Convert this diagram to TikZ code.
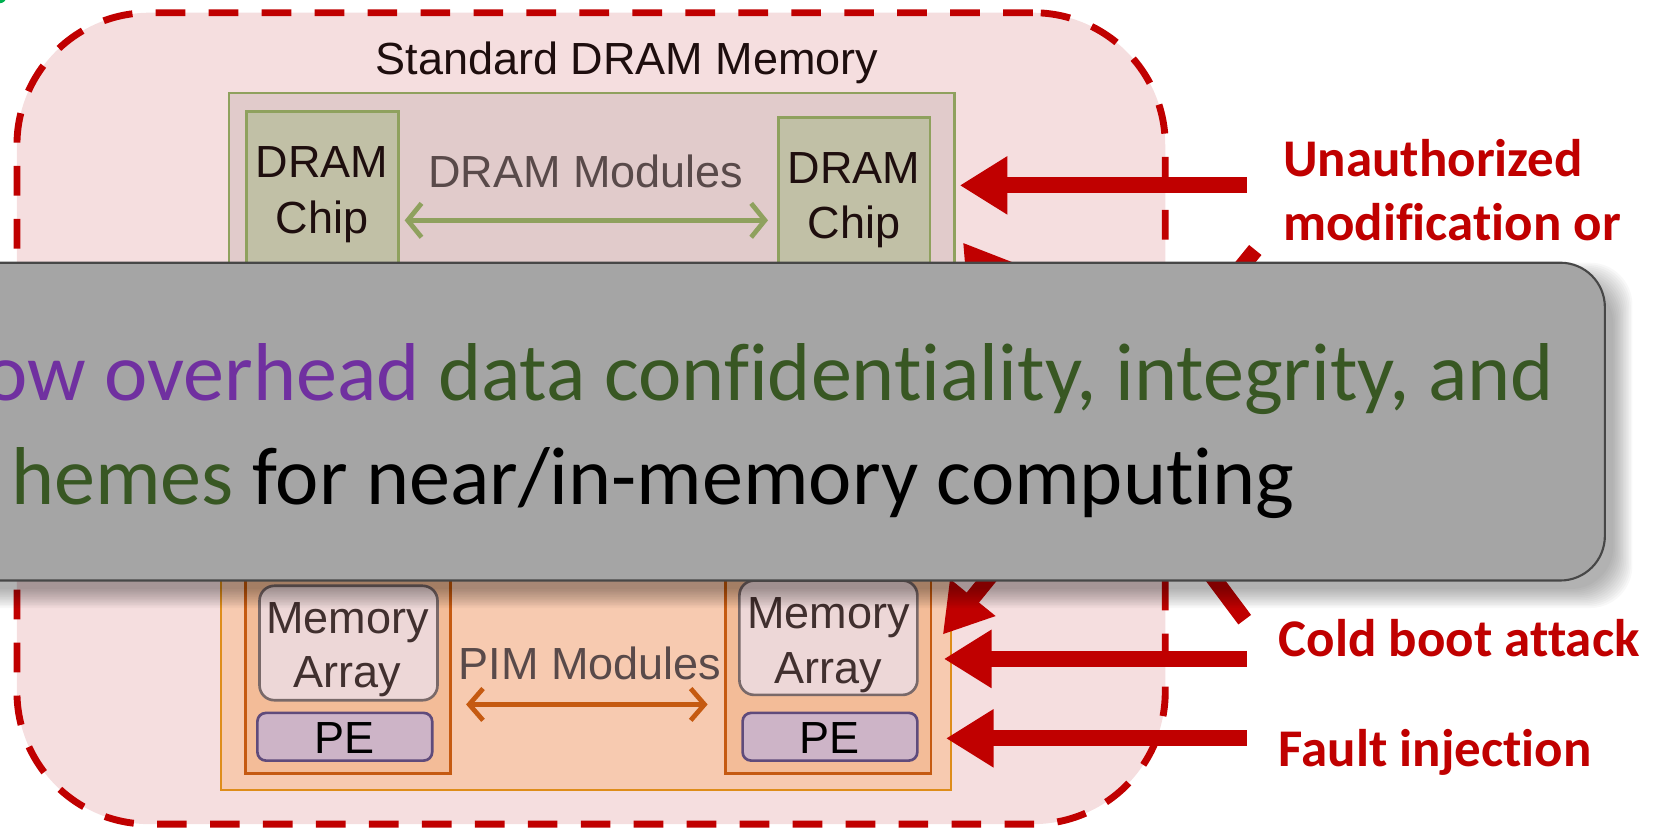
\documentclass[tikz,border=0pt]{standalone}
\usepackage{fontspec}
\newfontfamily\arialf{Liberation Sans}
\newfontfamily\calf[Ligatures=NoCommon]{Carlito}
\usetikzlibrary{arrows.meta}

\definecolor{outerfill}{HTML}{F5DEDF}
\definecolor{attackred}{HTML}{C00000}
\definecolor{dramfill}{HTML}{E1CBCB}
\definecolor{dramline}{HTML}{8FA15E}
\definecolor{chipfill}{HTML}{C1C0A6}
\definecolor{pimfill}{HTML}{F7CAB0}
\definecolor{pimline}{HTML}{DE8D1A}
\definecolor{pimin}{HTML}{F3BC98}
\definecolor{pimdark}{HTML}{C55A11}
\definecolor{arrfill}{HTML}{EDD7D7}
\definecolor{arrline}{HTML}{796969}
\definecolor{pefill}{HTML}{CDB4C7}
\definecolor{peline}{HTML}{5F4B7B}
\definecolor{labtext}{HTML}{594A4A}
\definecolor{darktext}{HTML}{1E0E0E}
\definecolor{memtext}{HTML}{41302F}
\definecolor{banner}{HTML}{A5A5A5}
\definecolor{bannerline}{HTML}{474747}
\definecolor{purp}{HTML}{7030A0}
\definecolor{grn}{HTML}{385723}
\definecolor{dotgreen}{HTML}{00B050}

\begin{document}
\begin{tikzpicture}[x=1pt,y=-1pt,
  box/.style={draw, inner sep=0pt, outer sep=0pt, anchor=north west},
  lbl/.style={inner sep=0pt, anchor=base, font=\arialf\fontsize{42.5}{50}\selectfont},
  attack/.style={inner sep=0pt, anchor=base west, text=attackred,
                 font=\calf\bfseries\fontsize{50}{60}\selectfont},
  redarrow/.style={draw=attackred, line width=15pt,
                   -{Triangle[length=45pt,width=52pt]}},
  garrow/.style={draw=dramline, line width=4.5pt,
                 {Straight Barb[length=13pt,width=32pt]}-{Straight Barb[length=13pt,width=32pt]}},
  oarrow/.style={draw=pimdark, line width=4.5pt,
                 {Straight Barb[length=13pt,width=30pt]}-{Straight Barb[length=13pt,width=30pt]}},
  msg/.style={inner sep=0pt, anchor=base east, font=\calf\fontsize{77.5}{90}\selectfont}
]
\useasboundingbox (0,0) rectangle (1568,786);
\clip (0,0) rectangle (1568,786);

% small green mark in the corner
\fill[dotgreen] (0,-3) circle (6pt);

% memory enclosure
\node[box, draw=attackred, fill=outerfill, line width=6.5pt,
      dash pattern=on 28pt off 22pt, rounded corners=125pt,
      minimum width=1084pt, minimum height=766pt] (mem) at (16,12) {};
\node[lbl, text=darktext] (title) at (592,70) {Standard DRAM Memory};

% DRAM modules
\node[box, draw=dramline, fill=dramfill, line width=2pt,
      minimum width=685pt, minimum height=250pt] (dmod) at (216,88) {};
\node[box, draw=dramline, fill=chipfill, line width=2.5pt,
      minimum width=143pt, minimum height=200pt] (chipL) at (233,105) {};
\node[box, draw=dramline, fill=chipfill, line width=2.5pt,
      minimum width=143pt, minimum height=200pt] (chipR) at (735,111) {};
\node[lbl, text=darktext] (chipLa) at (304,168) {DRAM};
\node[lbl, text=darktext] (chipLb) at (304,220) {Chip};
\node[lbl, text=darktext] (chipRa) at (806,173) {DRAM};
\node[lbl, text=darktext] (chipRb) at (806,225) {Chip};
\node[lbl, text=labtext] (dlabel) at (553,177) {DRAM Modules};
\coordinate (gy) at (0,208);
\draw[garrow, shorten <=6pt, shorten >=10pt] (chipL.east |- gy) -- (chipR.west |- gy);

% PIM modules
\node[box, draw=pimline, fill=pimfill, line width=2pt,
      minimum width=689pt, minimum height=346pt] (pmod) at (209,400) {};
\node[box, draw=pimdark, fill=pimin, line width=2.5pt,
      minimum width=193pt, minimum height=330pt] (pimL) at (232,400) {};
\node[box, draw=pimdark, fill=pimin, line width=2.5pt,
      minimum width=194pt, minimum height=330pt] (pimR) at (685,400) {};
\node[box, draw=arrline, fill=arrfill, line width=2.5pt, rounded corners=14pt,
      minimum width=168pt, minimum height=108pt] (memL) at (245,553) {};
\node[box, draw=arrline, fill=arrfill, line width=2.5pt, rounded corners=14pt,
      minimum width=168pt, minimum height=108pt] (memR) at (698,548) {};
\node[box, draw=peline, fill=pefill, line width=2.5pt, rounded corners=8pt,
      minimum width=165pt, minimum height=45pt] (peL) at (243,673) {};
\node[box, draw=peline, fill=pefill, line width=2.5pt, rounded corners=8pt,
      minimum width=165pt, minimum height=45pt] (peR) at (701,673) {};
\node[lbl, text=memtext] (memLa) at (328,598) {Memory};
\node[lbl, text=memtext] (memLb) at (328,649) {Array};
\node[lbl, text=memtext] (memRa) at (782,593) {Memory};
\node[lbl, text=memtext] (memRb) at (782,645) {Array};
\node[lbl, text=black] (peLa) at (325,711) {PE};
\node[lbl, text=black] (peRa) at (783,711) {PE};
\node[lbl, text=labtext] (plabel) at (557,641) {PIM Modules};
\coordinate (oy) at (0,665);
\draw[oarrow, shorten <=15pt, shorten >=17pt] (pimL.east |- oy) -- (pimR.west |- oy);

% attack arrows
\coordinate (uS) at (1177,175);  \coordinate (uT) at (906,175);
\coordinate (dS) at (1185,236);  \coordinate (dT) at (890,599);
\coordinate (eS) at (1175,585);  \coordinate (eT) at (909,229);
\coordinate (cS) at (1177,622);  \coordinate (cT) at (891,622);
\coordinate (fS) at (1177,697);  \coordinate (fT) at (893,697);
\draw[redarrow] (uS) -- (uT);
\draw[redarrow] (dS) -- (dT);
\draw[redarrow] (eS) -- (eT);
\draw[redarrow] (cS) -- (cT);
\draw[redarrow] (fS) -- (fT);

% attack labels
\node[attack] (t1) at (1211,167) {Unauthorized};
\node[attack] (t2) at (1211,227) {modification or};
\node[attack] (t3) at (1207,620) {Cold boot attack};
\node[attack] (t4) at (1207,724) {Fault injection};

% soft shadow of the banner
\foreach \e in {-6,-4.5,...,12}
  \fill[black, opacity=0.028, rounded corners=40pt]
    ({-48-\e},{260-\e}) rectangle ({1529+\e},{562+\e});

% banner
\node[box, draw=bannerline, fill=banner, line width=2pt, rounded corners=42pt,
      minimum width=1575pt, minimum height=300pt] (banner) at (-60,248) {};
\node[msg] (msg1) at (1467,378)
  {\textcolor{purp}{ow overhead} \textcolor{grn}{data confidentiality, integrity, and}};
\node[msg] (msg2) at (1222,476)
  {\textcolor{grn}{hemes} for near/in-memory computing};
\end{tikzpicture}
\end{document}
